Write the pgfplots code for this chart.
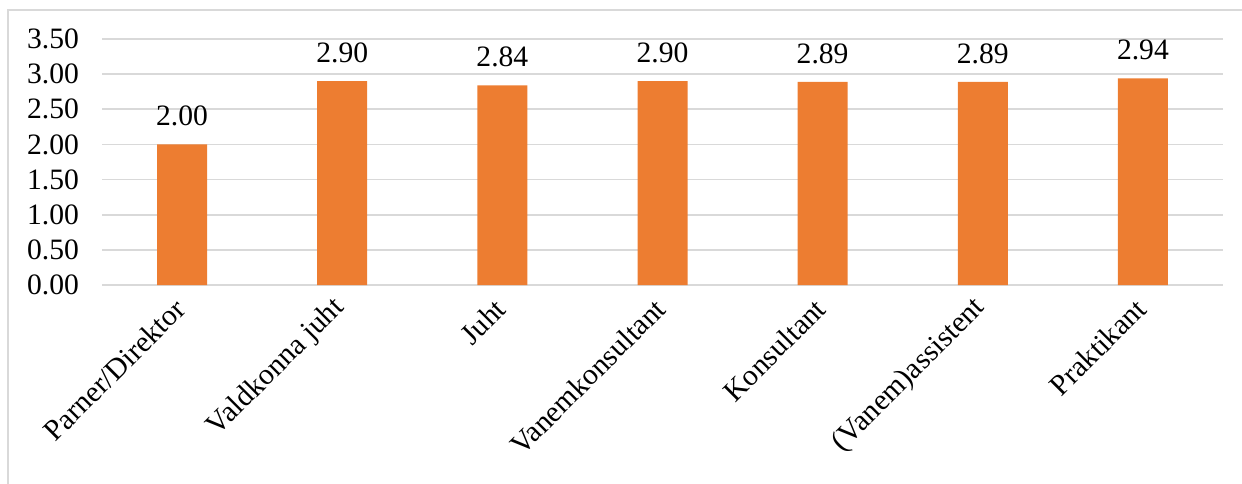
\documentclass[border=0pt]{standalone}
\usepackage{fontspec}
\setmainfont{Liberation Serif}
\usepackage{pgfplots}
\pgfplotsset{compat=1.18}
\definecolor{barorange}{HTML}{ED7D31}
\definecolor{gridgray}{HTML}{D9D9D9}
\begin{document}
\begin{tikzpicture}
\path[use as bounding box] (0,0) rectangle (621pt,241.5pt);
\draw[gridgray, line width=0.8pt] (4pt,-20pt) -- (4pt,236.5pt) -- (625pt,236.5pt);
\begin{axis}[
  at={(51pt,99pt)}, anchor=south west,
  scale only axis,
  width=560.5pt, height=123pt,
  xmin=-0.5, xmax=6.5,
  ymin=0, ymax=3.5,
  ytick={0,0.5,...,3.5},
  xtick=data,
  xticklabels={Parner/Direktor,Valdkonna juht,Juht,Vanemkonsultant,Konsultant,(Vanem)assistent,Praktikant},
  axis line style={draw=none},
  axis x line*=bottom,
  ymajorgrids,
  grid style={gridgray, line width=0.8pt},
  major tick length=0pt,
  tick style={draw=none},
  /pgf/number format/assume math mode=true,
  yticklabel style={/pgf/number format/fixed, /pgf/number format/fixed zerofill, /pgf/number format/precision=2, font=\fontsize{14.8}{17}\selectfont, xshift=-8pt},
  xticklabel style={font=\fontsize{14.8}{17}\selectfont, rotate=45, anchor=east, xshift=-4pt, yshift=-6pt},
  ybar, bar width=25pt,
  clip=false,
]
\draw[gridgray, line width=0.8pt] (axis cs:-0.5,0) -- (axis cs:6.5,0);
\addplot[fill=barorange, draw=none,
  nodes near coords,
  every node near coord/.append style={font=\fontsize{14.8}{17}\selectfont, /pgf/number format/fixed, /pgf/number format/fixed zerofill, /pgf/number format/precision=2, /pgf/number format/assume math mode=true, yshift=5.5pt}]
  coordinates {(0,2.00) (1,2.90) (2,2.84) (3,2.90) (4,2.89) (5,2.89) (6,2.94)};
\end{axis}
\end{tikzpicture}
\end{document}
